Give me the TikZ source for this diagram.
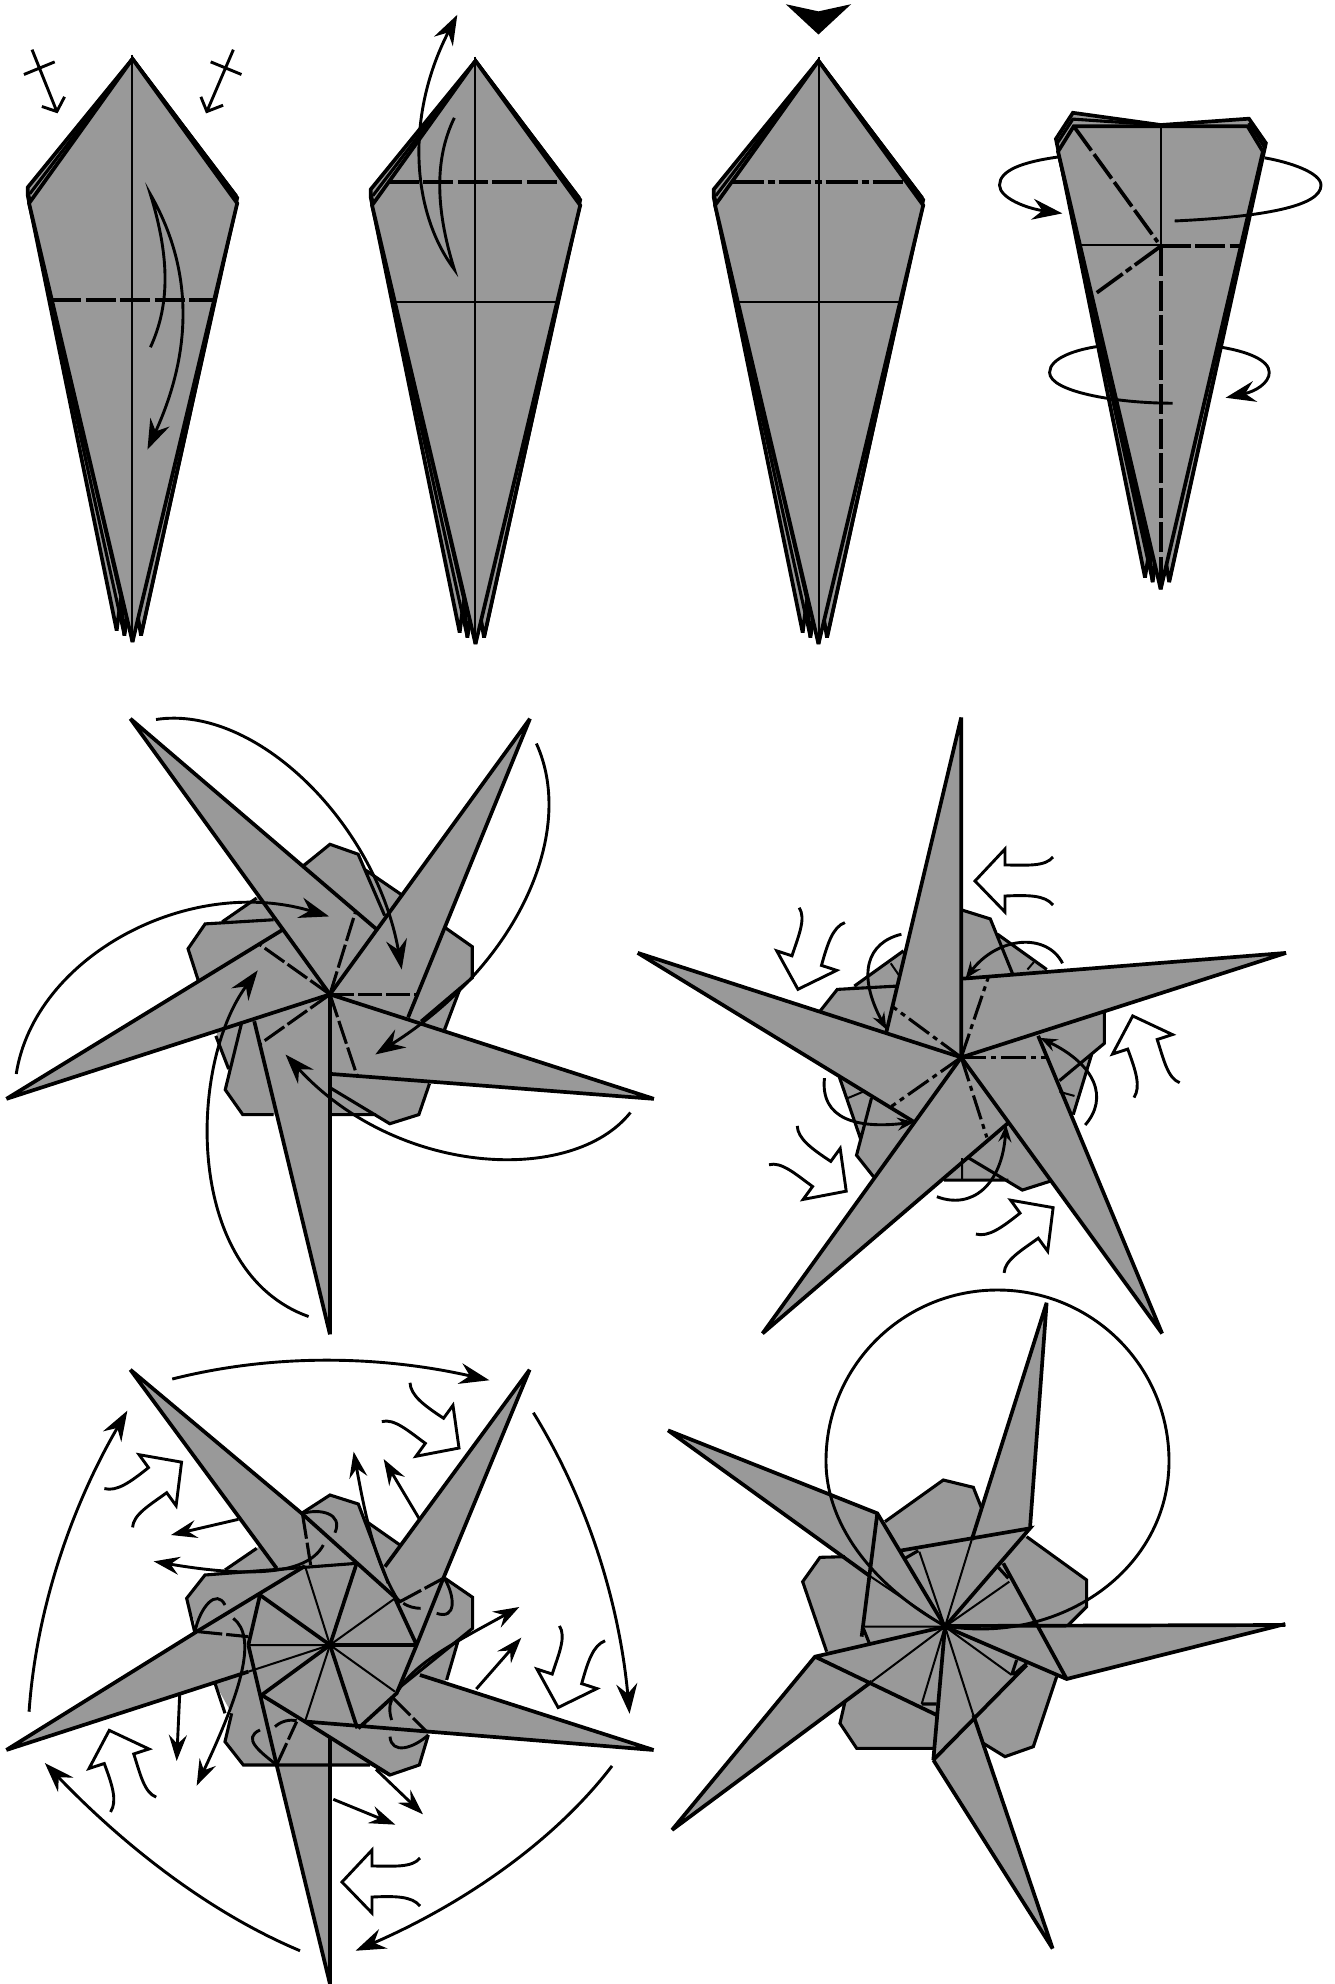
\documentclass[tikz,border=0pt]{standalone}
\usetikzlibrary{arrows.meta}
\definecolor{pap}{HTML}{999999}
\tikzset{
  crop/.style n args={4}{xshift=#1pt,yshift=-#2pt,x=#3pt,y=-#4pt},
  ed/.style={draw=black,line width=3.7pt,miter limit=3},
  crease/.style={draw=black,line width=2pt},
  mid/.style={draw=black,line width=3.1pt,miter limit=3},
  valley/.style={draw=black,line width=3.7pt,dash pattern=on 30pt off 4.5pt},
  valleyb/.style={draw=black,line width=3.1pt,dash pattern=on 24pt off 4pt},
  mount/.style={draw=black,line width=3.7pt,dash pattern=on 32pt off 4pt on 7pt off 4pt},
  mountb/.style={draw=black,line width=3.1pt,dash pattern=on 25pt off 5pt on 5pt off 5pt},
  curve/.style={draw=black,line width=2.9pt},
  big/.style={curve,-{Stealth[length=30pt,width=21pt,inset=10pt]}},
  med/.style={curve,-{Stealth[length=26pt,width=18pt,inset=9pt]}},
  small/.style={curve,-{Stealth[length=17pt,width=13pt,inset=6pt]}},
  hollowline/.style={draw=black,fill=white,line width=2.9pt},
}
\newcommand{\kitebody}{%
  \filldraw[ed,fill=pap] (310,140)--(65,445)--(65,465)--(273,1498)--(283,1420)--(291,1510)--(300,1450)--(310,1525)--(320,1450)--(330,1510)--(555,470)--cycle;
  \draw[mid] (66,458)--(283,1420) (68,480)--(291,1510) (555,480)--(330,1510) (70,460)--(310,140) (553,465)--(310,140);
  \filldraw[ed,fill=pap] (310,140)--(68,483)--(310,1525)--(555,483)--cycle;
  \draw[crease] (310,130)--(310,1525);
}
\newcommand{\hollowat}[4]{%
  \foreach \a in {0,72,144,216,288}{
    \begin{scope}[x=1pt,y=-1pt,shift={(#1,#2)},rotate=\a,shift={(#3,#4)}]
      \filldraw[hollowline] (78,-24) .. controls (70,-14) and (51,-16) .. (30,-16) -- (30,-32) -- (0,0) -- (30,31) -- (30,15) .. controls (53,14) and (70,14) .. (78,24);
    \end{scope}
  }%
}
\begin{document}
\begin{tikzpicture}[x=1pt,y=-1pt]
\useasboundingbox (0,0) rectangle (1335,1984);
% ---------- kites 1-3
\begin{scope}[crop={0}{0}{.4274}{.4209}]
  \kitebody
  \draw[valley] (120,712)--(500,712);
  \draw[big] (352,825) .. controls (395,730) and (400,620) .. (352,462) .. controls (430,600) and (470,790) .. (345,1068);
  \draw[curve] (75,118)--(133,265) (56,177)--(128,147) (98,253)--(133,265)--(151,230);
  \draw[curve] (546,118)--(484,265) (493,147)--(565,177) (470,230)--(484,265)--(522,250);
\end{scope}
\begin{scope}[crop={343}{2}{.4274}{.4209}]
  \kitebody
\end{scope}
\begin{scope}[crop={0}{0}{.4274}{.4209}]
  \draw[valley] (910,432)--(1312,432);
  \draw[crease] (925,717)--(1300,717);
  \draw[big] (1063,280) .. controls (1015,380) and (1020,500) .. (1063,640) .. controls (960,500) and (950,270) .. (1070,35);
\end{scope}
\begin{scope}[crop={686}{2}{.4274}{.4209}]
  \kitebody
\end{scope}
\begin{scope}[crop={670}{0}{.4241}{.4209}]
  \draw[mount] (145,432)--(550,432);
  \draw[crease] (160,717)--(540,717);
  \fill (273,10)--(350,27)--(427,10)--(350,82)--cycle;
  % ---------- kite 4
  \filldraw[ed,fill=pap] (950,268)--(1157,297)--(1365,282)--(1405,340)--(1177,1383)--(1167,1320)--(1157,1400)--(1147,1320)--(1138,1383)--(1130,1310)--(1120,1372)--(910,330)--cycle;
  \draw[mid] (912,342)--(950,283)--(1157,297) (1365,292)--(1402,350) (915,350)--(1130,1310) (915,360)--(1138,1383) (1398,360)--(1177,1383);
  \filldraw[ed,fill=pap] (915,360)--(952,300)--(1362,300)--(1398,360)--(1157,1400)--cycle;
  \draw[crease] (1157,300)--(1157,585) (970,583)--(1157,583);
  \draw[valley] (952,300)--(1150,575);
  \draw[valley] (1157,585)--(1345,585);
  \draw[valley] (1157,585)--(1157,1390);
  \draw[mount] (1157,585)--(1000,700);
  \draw[curve] (1190,525) .. controls (1400,515) and (1535,490) .. (1535,440) .. controls (1535,410) and (1460,385) .. (1402,375);
  \draw[big] (915,373) .. controls (830,385) and (777,405) .. (777,440) .. controls (777,470) and (840,495) .. (925,507);
  \draw[curve] (1185,958) .. controls (1050,958) and (895,930) .. (895,885) .. controls (895,850) and (960,830) .. (1010,823);
  \draw[big] (1300,825) .. controls (1360,835) and (1413,855) .. (1413,885) .. controls (1413,910) and (1380,930) .. (1310,945);
\end{scope}
% ---------- star A
\begin{scope}[crop={0}{700}{.4274}{.4146}]
  \fill[pap] (772,348)--(838,372)--(855,410)--(1105,595)--(1105,670)--(1075,700)--(980,1000)--(912,1022)--(880,1000)--(568,1000)--(527,940)--(535,890)--(440,600)--(480,540)--(520,535)--cycle;
  \fill[pap] (305,45)--(880,552)--(772,710)--cycle (1240,45)--(955,765)--(772,710)--cycle (1530,962)--(775,902)--(772,710)--cycle (772,1530)--(595,775)--(772,710)--cycle (15,962)--(660,555)--(772,710)--cycle;
  \draw[mid] (710,400)--(772,348)--(838,372)--(900,520) (855,410)--(940,470) (1040,548)--(1105,595)--(1105,670)--(985,775) (1075,700)--(1040,795) (1005,925)--(980,1000)--(912,1022)--(772,935) (880,1000)--(775,1000) (640,1000)--(568,1000)--(527,940)--(565,780) (535,890)--(505,810) (465,680)--(440,600)--(480,540)--(640,530) (520,535)--(600,478);
  \draw[ed] (305,45)--(880,552) (305,45)--(772,710) (1240,45)--(772,710) (1240,45)--(955,765) (1530,962)--(772,710) (1530,962)--(775,902) (772,1530)--(772,710) (772,1530)--(595,775) (15,962)--(772,710) (15,962)--(660,555);
  \draw[valleyb] (772,710)--(832,510);
  \draw[valleyb] (772,710)--(975,710);
  \draw[valleyb] (772,710)--(835,905);
  \draw[valleyb] (772,710)--(605,832);
  \draw[valleyb] (772,710)--(608,590);
  \draw[big] (365,47) .. controls (600,10) and (880,300) .. (940,650);
  \draw[big] (1255,105) .. controls (1350,320) and (1210,640) .. (878,855);
  \draw[big] (1475,995) .. controls (1340,1170) and (930,1150) .. (668,855);
  \draw[big] (722,1487) .. controls (430,1380) and (440,880) .. (603,652);
  \draw[big] (38,902) .. controls (80,620) and (440,420) .. (770,522);
\end{scope}
% ---------- star B
\begin{scope}[crop={630}{700}{.4274}{.4146}]
  \fill[pap] (775,507)--(843,528)--(860,565)--(975,650)--(1110,755)--(1110,828)--(1080,855)--(1037,1000)--(985,1160)--(918,1182)--(885,1158)--(735,1158)--(570,1150)--(530,1098)--(540,1060)--(490,910)--(445,750)--(485,698)--(525,690)--(640,605)--cycle;
  \fill[pap] (775,42)--(600,800)--(775,862)--cycle (1535,610)--(780,672)--(775,862)--cycle (1245,1528)--(955,810)--(775,862)--cycle (310,1528)--(885,1020)--(775,862)--cycle (18,610)--(665,1018)--(775,862)--cycle;
  \draw[mid] (778,507)--(843,528)--(895,660) (860,565)--(975,650) (1110,755)--(1110,828)--(1005,918) (1080,855)--(1037,1000) (735,1158)--(885,1158) (790,1103)--(918,1182)--(985,1160) (570,1150)--(530,1098)--(565,960) (490,910)--(540,1060) (445,750)--(485,698)--(625,690) (525,690)--(640,605);
  \draw[crease] (610,635)--(630,665) (930,650)--(945,632) (1005,945)--(1040,955) (510,960)--(545,945) (777,1105)--(777,1158);
  \draw[ed] (775,42)--(775,862) (775,42)--(600,800) (1535,610)--(775,862) (1535,610)--(780,672) (1245,1528)--(775,862) (1245,1528)--(955,810) (310,1528)--(775,862) (310,1528)--(885,1020) (18,610)--(775,862) (18,610)--(665,1018);
  \draw[mountb] (775,862)--(838,670);
  \draw[mountb] (775,862)--(975,862);
  \draw[mountb] (775,862)--(835,1055);
  \draw[mountb] (775,862)--(612,980);
  \draw[mountb] (775,862)--(615,740);
  \draw[small] (1012,635) .. controls (975,560) and (860,570) .. (785,672);
  \draw[small] (635,565) .. controls (555,585) and (530,660) .. (600,795);
  \draw[small] (455,912) .. controls (445,1010) and (530,1035) .. (665,1018);
  \draw[small] (718,1198) .. controls (800,1230) and (870,1170) .. (880,1025);
  \draw[small] (1065,1025) .. controls (1120,960) and (1090,880) .. (960,815);
\end{scope}
\hollowat{961}{1057}{14}{-176}
% ---------- star C
\begin{scope}[crop={180}{1480}{.3333}{.3333}]
  \fill[pap] (365,100)--(450,45)--(535,72)--(560,125)--(660,195)--(878,352)--(878,445)--(835,480)--(745,765)--(718,855)--(630,885)--(570,855)--(190,855)--(135,785)--(155,700)--(105,610)--(20,355)--(75,285)--(135,270)--(230,205)--cycle;
  \fill[pap] (-149,-331)--(365,100)--(450,495)--(290,265)--cycle (1049,-331)--(790,295)--(450,495)--(615,260)--cycle (1421,810)--(720,585)--(450,495)--(380,725)--cycle (450,1512)--(290,855)--(450,495)--(450,760)--cycle (-521,810)--(205,575)--(450,495)--(50,455)--cycle;
  \draw[mid] (365,100)--(450,45)--(535,72)--(625,310) (560,125)--(660,195) (795,295)--(878,352)--(878,445)--(655,625) (835,480)--(800,600) (745,765)--(718,855)--(630,885)--(570,850) (570,855)--(190,855)--(135,785)--(155,700) (105,610)--(135,700) (45,460)--(20,355)--(75,285)--(530,250) (135,270)--(230,205);
  \draw[crease] (450,495)--(375,258) (450,495)--(645,355) (450,495)--(645,635) (450,495)--(375,725) (450,495)--(205,495) (205,575)--(450,495);
  \draw[ed] (450,495)--(530,250) (450,495)--(245,645) (450,495)--(532,745) (450,495)--(240,345);
  \draw[ed,line width=4.2pt] (450,495)--(710,495);
  \draw[ed] (-149,-331)--(365,100)--(660,365) (-149,-331)--(290,265) (1049,-331)--(615,260) (1049,-331)--(790,295)  (645,355)--(710,495)--(650,640)--(535,745) (710,495)--(790,295) (1421,810)--(720,585) (1421,810)--(380,725) (245,645)--(375,725)--(630,885) (205,495)--(290,855) (240,345)--(205,495) (-521,810)--(50,455)--(375,258) (-521,810)--(205,575) (450,1512)--(450,770) (450,1512)--(290,855);
  \draw[valleyb] (368,105)--(392,255);
  \draw[valleyb] (660,365)--(790,295);
  \draw[valleyb] (640,655)--(740,755);
  \draw[valleyb] (290,855)--(350,725);
  \draw[valleyb] (55,455)--(205,470);
  \draw[curve] (370,100) .. controls (420,85) and (490,100) .. (465,158);
  \draw[med] (430,195) .. controls (380,290) and (190,290) .. (-79,244);
  \draw[med] (175,118)--(-27,165);
  \draw[curve] (670,370) .. controls (685,380) and (705,385) .. (722,385);
  \draw[curve] (770,400) .. controls (830,420) and (825,350) .. (795,298);
  \draw[med] (660,370) .. controls (590,260) and (560,130) .. (521,-85);
  \draw[med] (720,120)--(611,-63);
  \draw[med] (650,640) .. controls (700,550) and (820,490) .. (1018,381);
  \draw[med] (889,627)--(1024,473);
  \draw[curve] (745,765) .. controls (700,805) and (635,825) .. (630,770);
  \draw[curve] (635,660) .. controls (625,680) and (630,705) .. (635,720);
  \draw[med] (588,868)--(729,1003);
  \draw[med] (460,958)--(646,1034);
  \draw[curve] (290,855) .. controls (240,815) and (185,775) .. (240,750);
  \draw[curve] (285,740) .. controls (305,722) and (330,718) .. (350,722);
  \draw[med] (-1,645)--(-10,843);
  \draw[curve] (45,455) .. controls (60,380) and (110,325) .. (135,375);
  \draw[med] (160,415) .. controls (230,470) and (190,620) .. (50,917);
\end{scope}
\begin{scope}[crop={0}{1340}{.4274}{.4107}]
  \draw[big] (403,95) .. controls (650,30) and (900,40) .. (1145,98);
  \draw[big] (1248,177) .. controls (1380,400) and (1450,650) .. (1473,910);
  \draw[big] (1432,1037) .. controls (1290,1230) and (1070,1380) .. (832,1487);
  \draw[big] (702,1487) .. controls (480,1390) and (280,1220) .. (105,1030);
  \draw[big] (68,905) .. controls (85,650) and (170,400) .. (298,172);
\end{scope}
\hollowat{330}{1646}{12}{236}
% ---------- star D
\begin{scope}[crop={800}{1480}{.3333}{.3333}]
  \fill[pap] (255,125)--(430,0)--(520,22)--(545,85)--(680,170)--(860,300)--(860,380)--(805,435)--(770,590)--(700,800)--(615,830)--(550,790)--(400,805)--(170,805)--(120,730)--(135,665)--(80,515)--(8,305)--(60,232)--(135,230)--cycle;
  \fill[pap] (740,-532)--(690,145)--(435,440)--(515,180)--cycle (-396,-149)--(232,100)--(435,440)--(205,285)--cycle (1456,432)--(800,597)--(435,440)--cycle (-384,1050)--(215,605)--(435,440)--(45,530)--cycle (758,1406)--(520,705)--(435,440)--(400,840)--cycle;
  \draw[mid] (255,125)--(430,0)--(520,22)--(545,85) (680,170)--(860,300)--(860,380)--(805,435) (770,590)--(700,800)--(615,830)--(550,790) (400,805)--(170,805)--(120,730)--(135,665) (80,515)--(8,305)--(60,232)--(135,230);
  \draw[crease] (515,180)--(435,440) (205,285)--(435,440) (195,440)--(435,440) (628,305)--(435,440) (358,215)--(435,440) (215,605)--(435,440) (365,672)--(435,440) (520,705)--(435,440) (635,585)--(435,440);
  \draw[mid] (190,445)--(208,490) (315,235)--(355,212) (595,262)--(625,295) (365,672)--(410,672) (635,585)--(650,540) (640,585)--(680,550);
  \draw[ed] (740,-532)--(515,180) (740,-532)--(690,145) (300,212)--(690,145)--(435,440) (-396,-149)--(232,100)--(435,440) (-396,-149)--(205,285) (232,100)--(185,470) (1456,435)--(435,438) (1456,432)--(800,597)--(435,440) (800,597)--(610,250) (-384,1050)--(215,605) (-384,1050)--(45,530)--(435,440) (45,530)--(410,705) (758,1406)--(520,705) (400,840)--(435,440) (400,840)--(680,555) (400,840)--(758,1406);
\end{scope}
\draw[curve] (945,1626) .. controls (880,1590) and (826,1530) .. (826,1461) .. controls (826,1366.3) and (902.8,1290) .. (997.5,1290) .. controls (1092.2,1290) and (1169,1366.3) .. (1169,1461) .. controls (1169,1570) and (1060,1645) .. (945,1626);
\end{tikzpicture}
\end{document}
